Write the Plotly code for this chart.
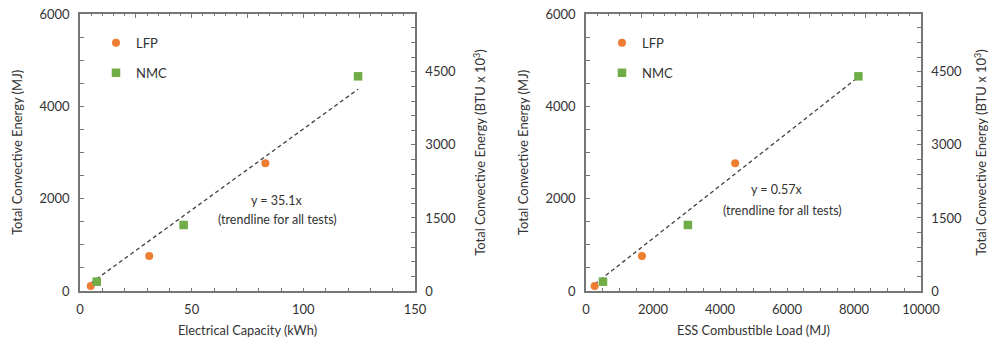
import plotly.graph_objects as go

# ---- data ----
lfp_capacity_kwh = [4.8, 31.0, 83.0]
lfp_energy_mj = [108, 758, 2765]
lfp_load_mj = [258, 1670, 4453]

nmc_capacity_kwh = [7.5, 46.4, 124.5]
nmc_energy_mj = [202, 1430, 4650]
nmc_load_mj = [507, 3042, 8131]

slope_capacity = 35.1
slope_load = 0.57
MJ_TO_KBTU = 0.947817

ORANGE = "#ED7D31"
GREEN = "#70AD47"
TXT = "#333333"
AX = "#767676"
FONT = "Lato"

fig = go.Figure()

def add_panel(xs_lfp, xs_nmc, slope, xa, ya, xtop, ya2, legend):
    all_x = xs_lfp + xs_nmc
    tx = [min(all_x), max(all_x)]
    fig.add_trace(go.Scatter(x=tx, y=[slope * v for v in tx], mode="lines",
                             line=dict(color="#404040", width=1.3, dash="4px,3px"),
                             xaxis=xa, yaxis=ya, showlegend=False, hoverinfo="skip"))
    fig.add_trace(go.Scatter(x=xs_lfp, y=lfp_energy_mj, mode="markers", name="LFP",
                             marker=dict(symbol="circle", size=8, color=ORANGE),
                             xaxis=xa, yaxis=ya, legend=legend, legendgroup="lfp"))
    fig.add_trace(go.Scatter(x=xs_nmc, y=nmc_energy_mj, mode="markers", name="NMC",
                             marker=dict(symbol="square", size=8.5, color=GREEN),
                             xaxis=xa, yaxis=ya, legend=legend, legendgroup="nmc"))
    # empty trace that activates the secondary (top / right) axes
    fig.add_trace(go.Scatter(x=[], y=[], xaxis=xtop, yaxis=ya2, showlegend=False,
                             hoverinfo="skip"))

add_panel(lfp_capacity_kwh, nmc_capacity_kwh, slope_capacity, "x", "y", "x3", "y2", "legend")
add_panel(lfp_load_mj, nmc_load_mj, slope_load, "x2", "y3", "x4", "y4", "legend2")

W, H = 989, 345
ML, MT, MB = 0, 14, 54
d1 = [80 / W, 415 / W]
d2 = [586 / W, 921 / W]

tickfont = dict(family=FONT, size=13, color=TXT)
xtitlefont = dict(family=FONT, size=12.8, color=TXT)
ytitlefont = dict(family=FONT, size=13, color=TXT)

def xaxis(domain, rng, dtick, minor, title, anchor):
    return dict(domain=domain, range=rng, tickmode="linear", tick0=0, dtick=dtick,
                tickformat="d", ticks="inside", ticklen=3.5, ticklabelstandoff=6,
                tickcolor=AX, tickwidth=1, showline=True, linecolor=AX, linewidth=1.5,
                showgrid=False, zeroline=False, tickfont=tickfont, automargin=False,
                minor=dict(dtick=minor, tick0=0, ticks="inside", ticklen=3.5, tickcolor=AX, showgrid=False),
                title=dict(text=title, font=xtitlefont, standoff=10), anchor=anchor)

def xtop(domain, overlaying, anchor):
    return dict(domain=domain, range=[0, 30], overlaying=overlaying, side="top", anchor=anchor,
                tickmode="linear", tick0=0, dtick=5, ticks="inside", ticklen=4.5,
                tickcolor=AX, tickwidth=1, showticklabels=False, showline=True,
                linecolor=AX, linewidth=1.5, showgrid=False, zeroline=False, automargin=False,
                minor=dict(dtick=1, tick0=0, ticks="inside", ticklen=2.5, tickcolor=AX, showgrid=False))

def yaxis(rng, dtick, minor, title, anchor, side="left", overlaying=None, standoff=14):
    d = dict(range=rng, tickmode="linear", tick0=0, dtick=dtick, tickformat="d",
             ticks="inside", ticklen=4, ticklabelstandoff=6,
             tickcolor=AX, tickwidth=1, showline=True, linecolor=AX, linewidth=1.5,
             showgrid=False, zeroline=False, tickfont=tickfont, side=side, automargin=False,
             minor=dict(dtick=minor, tick0=0, ticks="inside", ticklen=4, tickcolor=AX, showgrid=False),
             title=dict(text=title, font=ytitlefont, standoff=standoff), anchor=anchor)
    if overlaying:
        d["overlaying"] = overlaying
    return d

btu_title = "Total Convective Energy (BTU x 10<sup>3</sup>)"
mj_title = "Total Convective Energy (MJ)"
btu_range = [0, 6000 * MJ_TO_KBTU]

fig.update_layout(
    width=W, height=H,
    margin=dict(l=ML, r=0, t=MT, b=MB),
    paper_bgcolor="white", plot_bgcolor="white",
    font=dict(family=FONT, color=TXT),
    xaxis=xaxis(d1, [0, 150], 50, 10, "Electrical Capacity (kWh)", "y"),
    yaxis=yaxis([0, 6000], 2000, 500, mj_title, "x", standoff=14),
    yaxis2=yaxis(btu_range, 1500, 300, btu_title, "x", side="right", overlaying="y", standoff=21),
    xaxis3=xtop(d1, "x", "y2"),
    xaxis2=xaxis(d2, [0, 10000], 2000, 500, "ESS Combustible Load (MJ)", "y3"),
    yaxis3=yaxis([0, 6000], 2000, 500, mj_title, "x2", standoff=14),
    yaxis4=yaxis(btu_range, 1500, 300, btu_title, "x2", side="right", overlaying="y3", standoff=21),
    xaxis4=xtop(d2, "x2", "y4"),
    legend=dict(x=96 / W, y=0.95, xanchor="left", yanchor="top", bgcolor="rgba(0,0,0,0)",
                tracegroupgap=10, font=dict(family=FONT, size=13, color=TXT)),
    legend2=dict(x=602 / W, y=0.95, xanchor="left", yanchor="top", bgcolor="rgba(0,0,0,0)",
                 tracegroupgap=10, font=dict(family=FONT, size=13, color=TXT)),
    annotations=[
        dict(x=87.8, y=1950, xref="x", yref="y", text="y = 35.1x", showarrow=False,
             font=dict(family=FONT, size=12.5, color=TXT)),
        dict(x=88.5, y=1540, xref="x", yref="y", text="(trendline for all tests)", showarrow=False,
             font=dict(family=FONT, size=12.5, color=TXT)),
        dict(x=5700, y=2200, xref="x2", yref="y3", text="y = 0.57x", showarrow=False,
             font=dict(family=FONT, size=12.5, color=TXT)),
        dict(x=5860, y=1740, xref="x2", yref="y3", text="(trendline for all tests)", showarrow=False,
             font=dict(family=FONT, size=12.5, color=TXT)),
    ],
)

fig.write_html("out.html", config={"displayModeBar": False},
               post_script="document.body.style.margin='0';")
